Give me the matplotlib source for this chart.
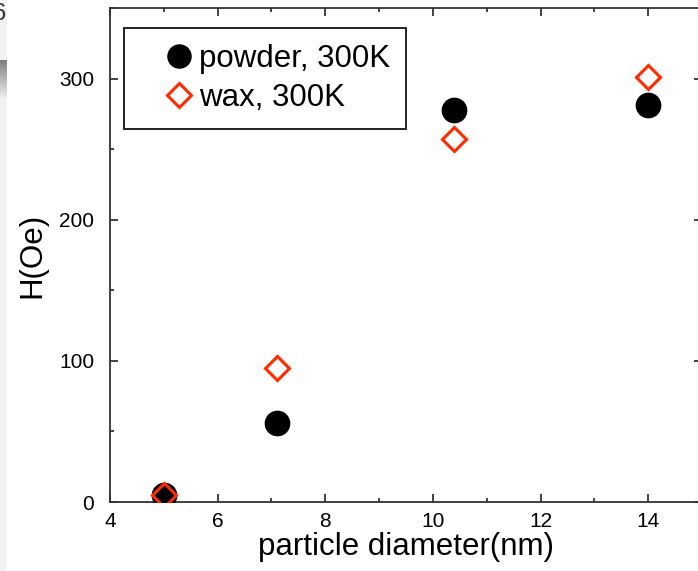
import numpy as np
import matplotlib.pyplot as plt
from matplotlib.ticker import MultipleLocator
from matplotlib.patches import Rectangle

plt.rcParams['font.family'] = ['Liberation Sans', 'DejaVu Sans']

# Coercive field vs. particle size
diameter = [5.0, 7.1, 10.4, 14.0]
h_powder = [5, 56, 278, 281]
h_wax = [5, 95, 257, 301]

W, H = 698, 571
fig = plt.figure(figsize=(W / 100, H / 100), dpi=100)

# light strip along the left edge
fig.patches.append(Rectangle((0, 0), 7 / W, 1, transform=fig.transFigure,
                             facecolor='#f2f2f2', edgecolor='none', zorder=0))
grad = np.linspace(0.5, 0.95, 40).reshape(-1, 1)
fig.figimage(np.repeat(grad, 7, axis=1), xo=0, yo=H - 100, cmap='gray',
             vmin=0, vmax=1, origin='upper', zorder=1)
fig.text(-7 / W, 1 - 3 / H, '6', fontsize=17, ha='left', va='top', color='#333333')

ax = fig.add_axes([110 / W, 69 / H, 592 / W, 494 / H])

ax.plot(diameter, h_powder, 'o', color='black', markersize=17.5,
        label='powder, 300K', zorder=3)
ax.plot(diameter, h_wax, 'D', markerfacecolor='none', markeredgecolor='#ff2a00',
        markeredgewidth=2.2, markersize=12.5, label='wax, 300K', zorder=4)

ax.set_xlim(4, 15)
ax.set_ylim(0, 350)
ax.xaxis.set_major_locator(MultipleLocator(2))
ax.xaxis.set_minor_locator(MultipleLocator(1))
ax.yaxis.set_major_locator(MultipleLocator(100))
ax.yaxis.set_minor_locator(MultipleLocator(50))
ax.tick_params(which='both', direction='in', top=True, right=True,
               labelsize=15, color='#222222', width=1.2)
ax.tick_params(which='major', length=6)
ax.tick_params(which='minor', length=3)
ax.tick_params(axis='x', which='major', pad=7)
ax.tick_params(axis='y', which='major', pad=11.5)
for s in ax.spines.values():
    s.set_linewidth(1.3)
    s.set_color('#333333')

ax.set_xlabel('particle diameter(nm)', fontsize=22.5, labelpad=1)
ax.set_ylabel('H(Oe)', fontsize=22.5, labelpad=8.5)

leg = ax.legend(loc='upper left', bbox_to_anchor=(124 / W, 1 - 28 / H),
                bbox_transform=fig.transFigure, fontsize=22.5, fancybox=False,
                edgecolor='#222222', framealpha=1, handlelength=2.5,
                handletextpad=-0.6, borderpad=0.5, labelspacing=0.3,
                borderaxespad=0, markerscale=0.95)
leg.get_frame().set_linewidth(1.4)

fig.savefig('out.png', dpi=100)
